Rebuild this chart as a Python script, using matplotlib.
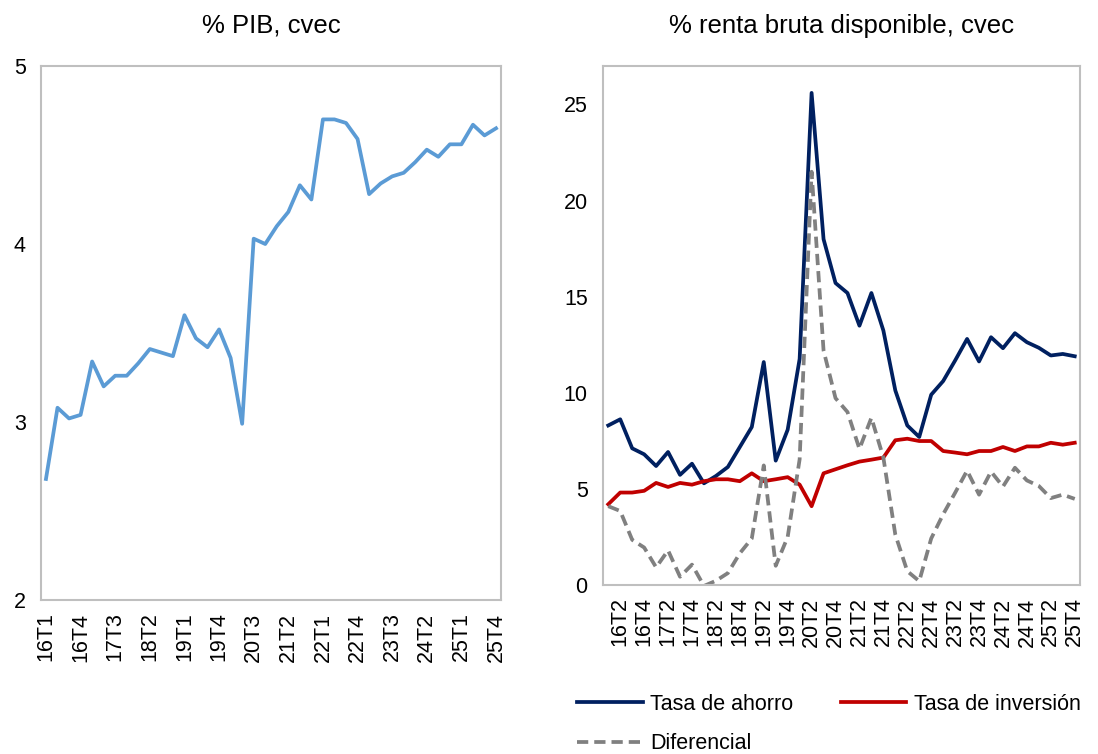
import matplotlib
matplotlib.use("Agg")
import matplotlib.pyplot as plt
import numpy as np

plt.rcParams['font.family'] = ['Liberation Sans', 'DejaVu Sans']

# quarters 16T1 .. 25T4
quarters = [f"{y}T{q}" for y in range(16, 26) for q in range(1, 5)]

# left panel: % PIB, cvec
pib = [2.68, 3.08, 3.02, 3.04, 3.34, 3.20, 3.26, 3.26, 3.33, 3.41,
       3.39, 3.37, 3.60, 3.47, 3.42, 3.52, 3.36, 2.99, 4.03, 4.00,
       4.10, 4.18, 4.33, 4.25, 4.70, 4.70, 4.68, 4.59, 4.28, 4.34,
       4.38, 4.40, 4.46, 4.53, 4.49, 4.56, 4.56, 4.67, 4.61, 4.65]

# right panel: % renta bruta disponible, cvec
ahorro = [8.30, 8.62, 7.11, 6.80, 6.19, 6.92, 5.73, 6.31, 5.29, 5.67,
          6.14, 7.18, 8.22, 11.60, 6.47, 8.08, 11.76, 25.60, 17.99, 15.71,
          15.19, 13.49, 15.19, 13.24, 10.12, 8.30, 7.70, 9.90, 10.61, 11.68,
          12.80, 11.63, 12.89, 12.32, 13.10, 12.63, 12.34, 11.94, 12.02, 11.90]
inversion = [4.20, 4.81, 4.81, 4.90, 5.31, 5.10, 5.31, 5.22, 5.40, 5.50,
             5.50, 5.40, 5.81, 5.40, 5.50, 5.61, 5.22, 4.10, 5.81, 6.02,
             6.23, 6.42, 6.52, 6.63, 7.53, 7.61, 7.49, 7.49, 6.97, 6.89,
             6.80, 6.97, 6.97, 7.18, 6.97, 7.21, 7.21, 7.40, 7.30, 7.40]
diferencial = [4.10, 3.85, 2.35, 1.95, 0.92, 1.80, 0.43, 1.06, -0.05, 0.22,
               0.62, 1.65, 2.42, 6.22, 1.00, 2.50, 6.54, 21.50, 12.20, 9.72,
               9.00, 7.08, 8.70, 6.63, 2.62, 0.72, 0.20, 2.42, 3.68, 4.80,
               5.95, 4.70, 5.90, 5.12, 6.10, 5.44, 5.15, 4.52, 4.70, 4.48]

frame_col = '#BFBFBF'
fs = 15.5
fs_title = 18.5
lw = 2.7

fig = plt.figure(figsize=(10.98, 7.54), dpi=100)
ax1 = fig.add_axes([41/1098, 1-600/754, 460/1098, 534/754])
ax2 = fig.add_axes([603/1098, 1-585/754, 477/1098, 519/754])

x = np.arange(len(quarters))

# left
ax1.plot(x, pib, color='#5B9BD5', lw=lw, solid_joinstyle='round')
ax1.set_ylim(2, 5)
ax1.set_yticks([2, 3, 4, 5])
ax1.set_xlim(-0.43, 39.43)
ax1.set_xticks(x[::3])
ax1.set_xticklabels(quarters[::3], rotation=90)
ax1.set_title('% PIB, cvec', fontsize=fs_title, pad=24)

# right
l1, = ax2.plot(x, ahorro, color='#002060', lw=lw, label='Tasa de ahorro')
l2, = ax2.plot(x, inversion, color='#C00000', lw=lw, label='Tasa de inversión')
l3, = ax2.plot(x, diferencial, color='#808080', lw=lw, ls=(0, (3.0, 1.6)),
               label='Diferencial')
ax2.set_ylim(0, 27)
ax2.set_yticks([0, 5, 10, 15, 20, 25])
ax2.set_xlim(-0.44, 39.44)
ax2.set_xticks(x[1::2])
ax2.set_xticklabels(quarters[1::2], rotation=90)
ax2.set_title('% renta bruta disponible, cvec', fontsize=fs_title, pad=24)

for ax in (ax1, ax2):
    for s in ax.spines.values():
        s.set_color(frame_col)
        s.set_linewidth(1.5)
    ax.tick_params(length=0, labelsize=fs)
    ax.tick_params(axis='y', pad=11)
    ax.tick_params(axis='x', pad=9)

# row-wise order: ahorro, inversion / diferencial
fig.legend([l1, l3, l2], ['Tasa de ahorro', 'Diferencial', 'Tasa de inversión'],
           loc='upper left', bbox_to_anchor=(577/1098, 1-694/754), ncol=2,
           frameon=False, fontsize=fs, handlelength=3.05,
           columnspacing=2.2, handletextpad=0.35, labelspacing=0.85,
           borderpad=0, borderaxespad=0)

fig.savefig('out.png', dpi=100)
